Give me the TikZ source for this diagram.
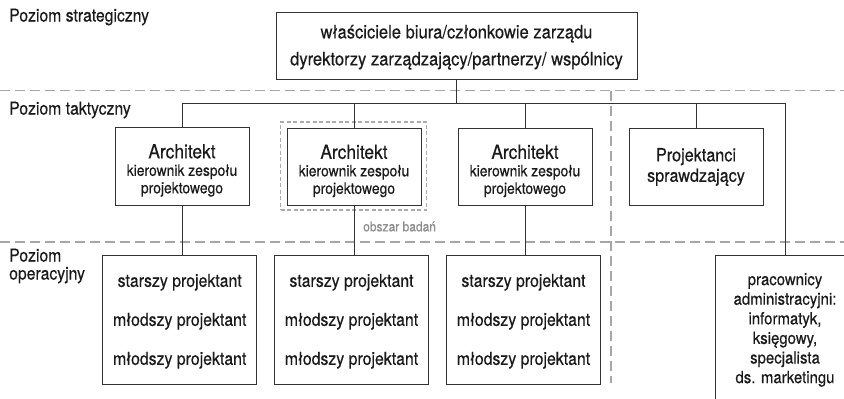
\documentclass[tikz,border=0pt]{standalone}
\usepackage{fontspec}
\setmainfont{TeX Gyre Heros}[FakeStretch=0.89, FakeBold=0.3]
\definecolor{txt}{HTML}{1A1A1A}
\definecolor{boxc}{HTML}{333333}
\definecolor{lvl}{HTML}{A6A6A6}
\definecolor{focusc}{HTML}{ABABAB}
\definecolor{obsc}{HTML}{8C8C8C}
\newcommand{\archtext}{{\fontsize{19.5}{20}\selectfont\rule{0pt}{22pt}Architekt}\\kierownik zespołu\\projektowego}
\begin{document}
\begin{tikzpicture}[x=1pt,y=-1pt,
  box/.style={draw=boxc, line width=1pt, text=txt, align=center, inner sep=0pt},
  conn/.style={draw=boxc, line width=1pt},
  levelline/.style={draw=lvl, line width=1.2pt, dash pattern=on 10pt off 5pt},
  lbl/.style={text=txt, inner sep=0pt, anchor=west, align=left, font=\fontsize{17.7}{18}\selectfont},
  archbox/.style={box, minimum width=134pt, minimum height=77.5pt, font=\fontsize{15.6}{17.5}\selectfont},
  teambox/.style={box, minimum width=154pt, minimum height=128.5pt, font=\fontsize{17.8}{39}\selectfont}]
\useasboundingbox (0,0) rectangle (844,399);
\fill[white] (0,0) rectangle (844,399);

% level separators
\coordinate (d1L) at (0,90.5); \coordinate (d1R) at (844,90.5);
\coordinate (d2L) at (0,242); \coordinate (d2R) at (844,242);
\coordinate (vT) at (611,90.5); \coordinate (vB) at (611,383);
\draw[levelline] (d1L) -- (d1R);
\draw[levelline] (d2L) -- (d2R);
\draw[levelline] (vT) -- (vB);

% level labels
\node[lbl] (l1) at (9,17) {Poziom strategiczny};
\node[lbl] (l2) at (9,110) {Poziom taktyczny};
\node[lbl] (l3) at (9,266) {Poziom\\operacyjny};

% research area
\node[draw=focusc, line width=1.8pt, dash pattern=on 4pt off 2.5pt, minimum width=146pt, minimum height=88.5pt, inner sep=0pt] (focus) at (353.5,166) {};
\node[text=obsc, inner sep=0pt, anchor=west, font=\fontsize{13.5}{14}\selectfont] (obs) at (363,226.5) {obszar badań};

% top
\node[box, minimum width=361pt, minimum height=67pt, font=\fontsize{18.6}{27}\selectfont] (top) at (456.5,45.5)
  {\rule{0pt}{17pt}właściciele biura/członkowie zarządu\\dyrektorzy zarządzający/partnerzy/ wspólnicy};

% tactical
\node[archbox] (a1) at (182,166.5) {\archtext};
\node[archbox] (a2) at (354,167) {\archtext};
\node[archbox] (a3) at (525,167) {\archtext};
\node[box, minimum width=134pt, minimum height=77.5pt, font=\fontsize{18.2}{20.5}\selectfont] (a4) at (696,167) {Projektanci\\sprawdzający};

% operational
\node[teambox] (b1) at (179.7,319.75) {\rule{0pt}{16pt}starszy projektant\\młodszy projektant\\młodszy projektant};
\node[teambox] (b2) at (351.5,319.75) {\rule{0pt}{16pt}starszy projektant\\młodszy projektant\\młodszy projektant};
\node[teambox] (b3) at (523.5,319.75) {\rule{0pt}{16pt}starszy projektant\\młodszy projektant\\młodszy projektant};
\node[box, minimum width=140pt, minimum height=150pt, font=\fontsize{16.8}{19.6}\selectfont] (adm) at (785,330)
  {pracownicy\\administracyjni:\\informatyk,\\księgowy,\\specjalista\\ds. marketingu};

% connectors
\coordinate (barL) at (182,103.5);
\coordinate (barR) at (785,103.5);
\draw[conn] (top.south) -- (top.south |- barL);
\draw[conn] (a1.north) |- (barR) -- (adm.north);
\draw[conn] (a2.north) -- (a2.north |- barL);
\draw[conn] (a3.north) -- (a3.north |- barL);
\draw[conn] (a4.north) -- (a4.north |- barL);
\draw[conn] (a1.south) -- (a1.south |- b1.north);
\draw[conn] (a2.south) -- (a2.south |- b2.north);
\draw[conn] (a3.south) -- (a3.south |- b3.north);
\end{tikzpicture}
\end{document}
